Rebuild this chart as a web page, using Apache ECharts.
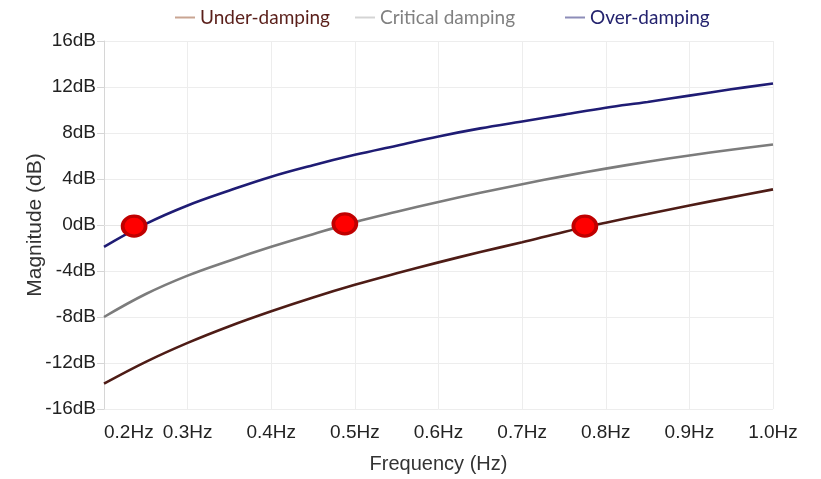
<!DOCTYPE html>
<html>
<head>
<meta charset="utf-8">
<script src="https://cdn.jsdelivr.net/npm/echarts@6/dist/echarts.min.js"></script>
<style>html,body{margin:0;padding:0;background:#fff}#c{width:821px;height:479px}</style>
</head>
<body>
<div id="c"></div>
<script>
const freq = [0.20,0.25,0.30,0.35,0.40,0.45,0.50,0.55,0.60,0.65,0.70,0.75,0.80,0.85,0.90,0.95,1.00];
const underDamping = [-13.8,-11.9,-10.25,-8.8,-7.5,-6.3,-5.2,-4.2,-3.25,-2.35,-1.5,-0.6,0.2,0.95,1.7,2.4,3.1];
const criticalDamping = [-8.0,-6.0,-4.4,-3.1,-1.9,-0.8,0.25,1.15,2.0,2.8,3.55,4.25,4.9,5.5,6.05,6.55,7.0];
const overDamping = [-1.9,0.1,1.7,3.0,4.2,5.2,6.1,6.9,7.7,8.4,9.0,9.6,10.2,10.7,11.25,11.8,12.3];
const markerFreq = [0.236,0.488,0.775];
const markerMag = [-0.1,0.1,-0.1];
const yTicks = [-16,-12,-8,-4,0,4,8,12,16];

const pair = (xs, ys) => xs.map((x, i) => [x, ys[i]]);

const chart = echarts.init(document.getElementById('c'));
const legendFont = 'Lato, "Open Sans", sans-serif';
const axisFont = '"Liberation Sans", Arial, sans-serif';
function mkLegend(name, left, textColor, iconColor) {
  return {
    left: left, top: 3,
    itemWidth: 20, itemHeight: 2, icon: 'rect',
    data: [{name: name, icon: 'rect', itemStyle: {color: iconColor}, textStyle: {color: textColor}}],
    textStyle: {fontFamily: legendFont, fontSize: 19, color: textColor},
    itemGap: 0
  };
}
chart.setOption({
  animation: false,
  backgroundColor: '#fff',
  legend: [
    mkLegend('Under-damping', 170, '#5a1f1a', '#c9a592'),
    mkLegend('Critical damping', 350, '#808080', '#d4d4d4'),
    mkLegend('Over-damping', 560, '#24236e', '#8d8db8')
  ],
  grid: {left: 104, right: 48, top: 41, bottom: 67, containLabel: false},
  xAxis: {
    type: 'value', min: 0.2, max: 1.0, interval: 0.1,
    name: 'Frequency (Hz)', nameLocation: 'middle', nameGap: 45, nameMoveOverlap: false,
    nameTextStyle: {fontFamily: axisFont, fontSize: 20, color: '#333'},
    axisLine: {show: true, lineStyle: {color: '#e6e6e6'}},
    axisTick: {show: false},
    axisLabel: {
      fontFamily: axisFont, fontSize: 19, color: '#222', margin: 14,
      formatter: v => v.toFixed(1) + 'Hz', alignMinLabel: 'left', alignMaxLabel: 'center'
    },
    splitLine: {show: true, lineStyle: {color: '#ededed'}}
  },
  yAxis: {
    type: 'value', min: -16, max: 16, interval: 4,
    name: 'Magnitude (dB)', nameLocation: 'middle', nameGap: 58, nameMoveOverlap: false,
    nameTextStyle: {fontFamily: axisFont, fontSize: 21, color: '#333'},
    axisLine: {show: true, lineStyle: {color: '#d6d6d6'}},
    axisTick: {show: true, length: 7, lineStyle: {color: '#d6d6d6'}},
    axisLabel: {
      fontFamily: axisFont, fontSize: 19, color: '#222', margin: 8,
      formatter: v => yTicks.includes(v) ? v + 'dB' : ''
    },
    splitLine: {show: true, lineStyle: {color: '#ededed'}}
  },
  series: [
    {name: 'Under-damping', type: 'line', smooth: 0.4, showSymbol: false,
     data: pair(freq, underDamping), lineStyle: {color: '#4e1c16', width: 2.6}, itemStyle: {color: '#4e1c16'}},
    {name: 'Critical damping', type: 'line', smooth: 0.4, showSymbol: false,
     data: pair(freq, criticalDamping), lineStyle: {color: '#7c7c7c', width: 2.6}, itemStyle: {color: '#7c7c7c'}},
    {name: 'Over-damping', type: 'line', smooth: 0.4, showSymbol: false,
     data: pair(freq, overDamping), lineStyle: {color: '#1f1c74', width: 2.6}, itemStyle: {color: '#1f1c74'}},
    {name: 'markers', type: 'scatter', symbol: 'circle', symbolSize: [23, 20], z: 5,
     data: pair(markerFreq, markerMag),
     itemStyle: {color: '#ff0000', opacity: 1, borderColor: '#c00000', borderWidth: 3.5}}
  ]
});
</script>
</body>
</html>
